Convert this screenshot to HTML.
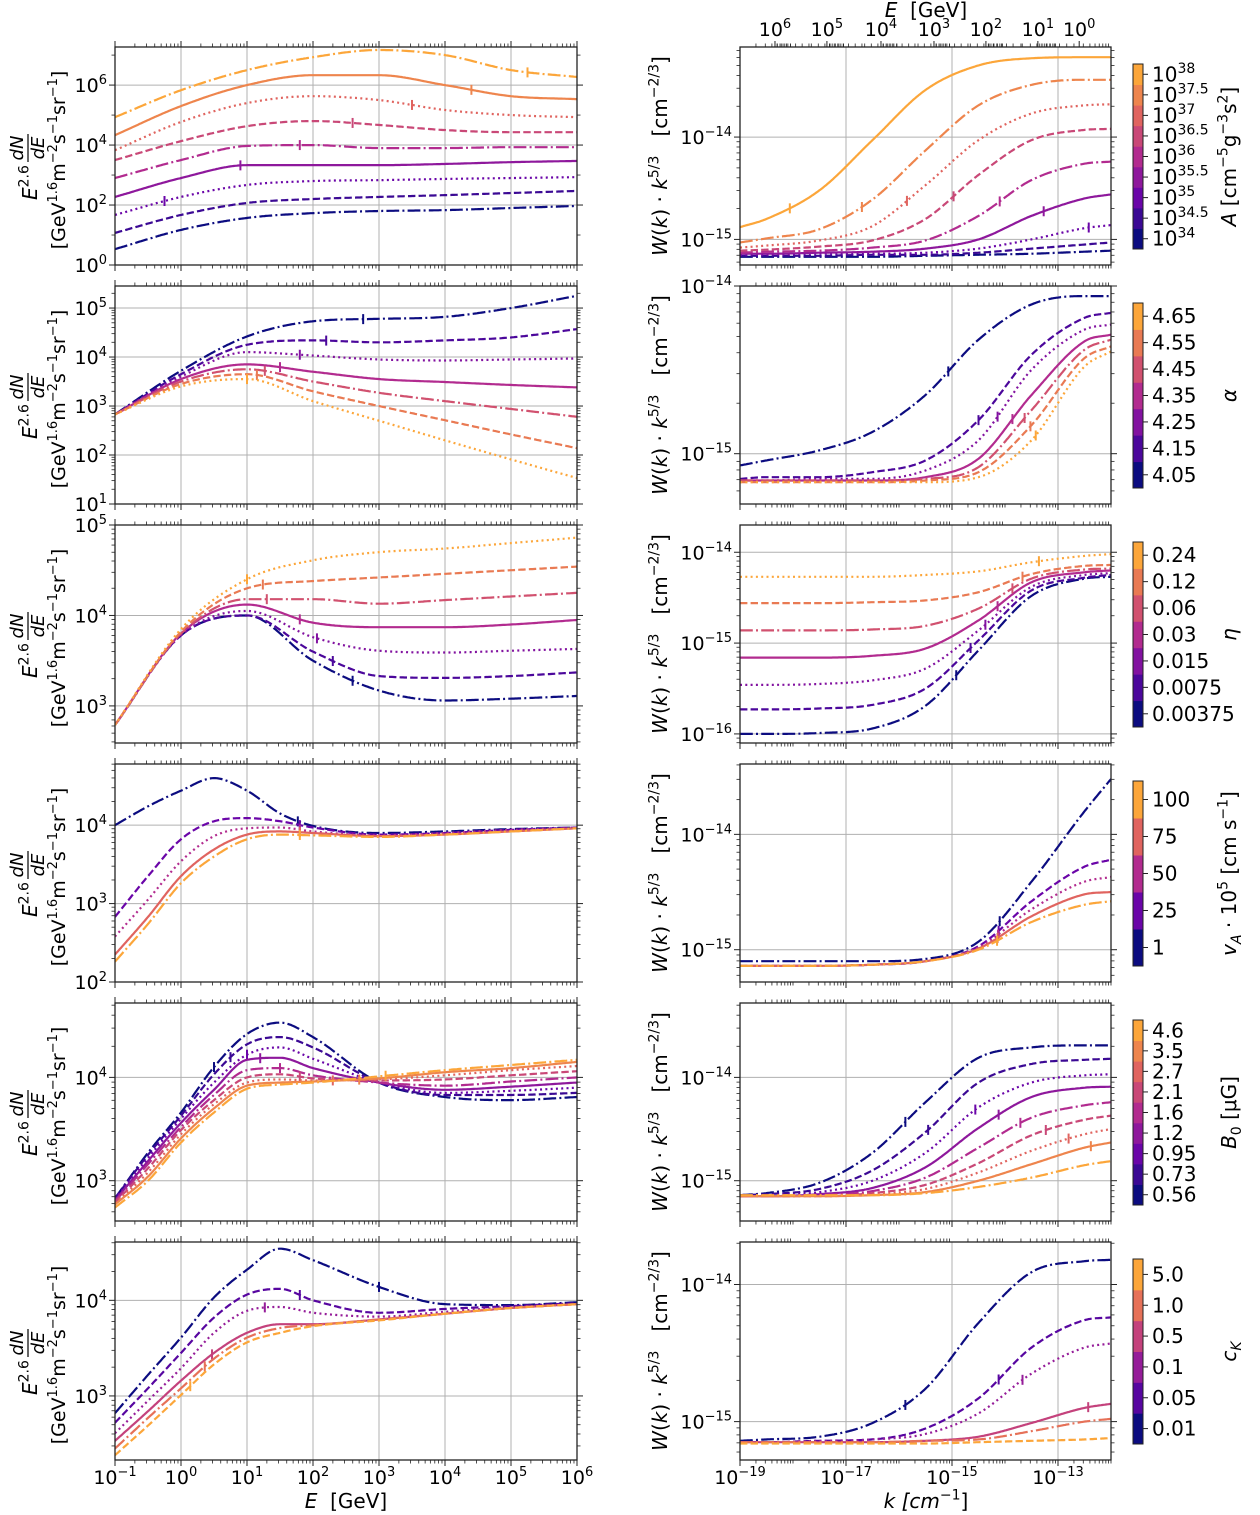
<!DOCTYPE html>
<html><head><meta charset="utf-8">
<style>
body{margin:0;background:#fff}
svg{display:block;font-family:"DejaVu Sans","Liberation Sans",sans-serif}
</style></head>
<body>
<svg id="fig" width="1260" height="1515" viewBox="0 0 1260 1515" xmlns="http://www.w3.org/2000/svg"></svg>
<script>
// ---------------- DATA (log10 values) ----------------
const L1x=[-1,0,1,2,3,4,5,6];
const L1y=[
[0.53,1.17,1.57,1.73,1.80,1.83,1.90,1.97],
[1.07,1.67,2.07,2.20,2.27,2.33,2.40,2.47],
[1.67,2.27,2.67,2.80,2.83,2.87,2.90,2.93],
[2.27,2.90,3.33,3.33,3.33,3.37,3.43,3.47],
[2.90,3.50,3.97,4.00,3.90,3.90,3.93,3.93],
[3.50,4.13,4.63,4.80,4.67,4.50,4.43,4.43],
[3.83,4.77,5.40,5.63,5.50,5.17,5.00,4.93],
[4.33,5.30,6.00,6.33,6.33,6.00,5.63,5.53],
[4.93,5.83,6.50,6.93,7.17,7.00,6.50,6.27]];
const L1mark=[null,null,-0.25,0.9,1.8,2.6,3.5,4.4,5.25];

const L2x=[-1,0,1,2,3,4,5,6];
const L2y=[
[2.83,3.72,4.42,4.73,4.78,4.82,5.00,5.25],
[2.83,3.65,4.25,4.34,4.30,4.34,4.40,4.57],
[2.83,3.60,4.10,4.03,3.95,3.93,3.95,3.97],
[2.83,3.55,3.85,3.70,3.55,3.49,3.43,3.38],
[2.83,3.50,3.75,3.50,3.27,3.10,2.94,2.78],
[2.83,3.45,3.65,3.30,3.00,2.71,2.42,2.14],
[2.83,3.40,3.55,3.10,2.70,2.30,1.91,1.53]];
const L2mark=[2.76,2.2,1.8,1.5,1.27,1.15,1.0];

const L3x=[-1,0,1,2,3,4,5,6];
const L3y=[
[2.79,3.78,4.00,3.50,3.17,3.06,3.08,3.11],
[2.79,3.78,4.00,3.60,3.33,3.31,3.33,3.37],
[2.79,3.78,4.05,3.76,3.61,3.59,3.61,3.63],
[2.79,3.80,4.12,3.92,3.87,3.87,3.90,3.95],
[2.79,3.80,4.18,4.18,4.13,4.17,4.21,4.25],
[2.79,3.82,4.30,4.38,4.42,4.46,4.50,4.54],
[2.79,3.85,4.40,4.61,4.70,4.74,4.80,4.86]];
const L3mark=[2.6,2.3,2.06,1.8,1.3,1.24,1.0];

const L4x=[-1,-0.5,0,0.5,1,1.5,2,3,4,5,6];
const L4y=[
[4.00,4.24,4.44,4.60,4.44,4.15,3.99,3.90,3.92,3.95,3.97],
[2.83,3.35,3.82,4.05,4.09,4.05,3.97,3.88,3.90,3.94,3.97],
[2.58,3.05,3.54,3.86,3.96,3.97,3.92,3.87,3.90,3.94,3.96],
[2.35,2.83,3.35,3.69,3.88,3.92,3.90,3.86,3.88,3.92,3.96],
[2.26,2.74,3.26,3.60,3.82,3.88,3.87,3.85,3.88,3.92,3.96]];
const L4mark=[1.77,1.8,1.8,1.8,1.8];

const L5x=[-1,-0.5,0,0.5,1,1.5,2,3,4,5,6];
const L5y=[
[2.83,3.27,3.66,4.10,4.42,4.53,4.39,3.95,3.81,3.78,3.81],
[2.83,3.25,3.63,4.03,4.32,4.39,4.29,3.95,3.83,3.83,3.85],
[2.82,3.22,3.60,3.95,4.22,4.29,4.18,3.95,3.85,3.87,3.90],
[2.81,3.19,3.56,3.88,4.17,4.19,4.09,3.95,3.88,3.91,3.95],
[2.80,3.16,3.52,3.83,4.07,4.09,4.02,3.95,3.92,3.96,4.00],
[2.79,3.12,3.49,3.78,4.00,4.03,3.99,3.97,3.98,4.02,4.06],
[2.78,3.08,3.45,3.74,3.95,3.98,3.97,3.98,4.02,4.07,4.11],
[2.77,3.04,3.41,3.70,3.92,3.95,3.96,3.99,4.05,4.09,4.15],
[2.74,3.00,3.37,3.66,3.89,3.93,3.95,4.01,4.07,4.12,4.17]];
const L5mark=[0.5,0.75,1.0,1.2,1.5,1.8,2.3,2.7,3.1];

const L6x=[-1,-0.5,0,0.5,1,1.5,2,3,4,5,6];
const L6y=[
[2.82,3.22,3.61,4.03,4.32,4.54,4.42,4.14,3.96,3.95,3.98],
[2.72,3.08,3.45,3.82,4.06,4.12,4.00,3.87,3.91,3.94,3.97],
[2.61,2.95,3.29,3.66,3.89,3.93,3.87,3.83,3.88,3.93,3.96],
[2.53,2.84,3.16,3.45,3.66,3.75,3.75,3.80,3.86,3.92,3.96],
[2.45,2.77,3.08,3.39,3.61,3.71,3.74,3.80,3.86,3.92,3.96],
[2.38,2.69,3.01,3.33,3.56,3.66,3.73,3.79,3.86,3.92,3.96]];
const L6mark=[3.0,1.8,1.27,0.47,0.36,0.14];

const Rx=[-19,-18.5,-17.5,-16.5,-15.5,-14.5,-13.5,-12.5,-12];
const R1y=[
[-15.17,-15.17,-15.17,-15.17,-15.16,-15.15,-15.14,-15.12,-15.11],
[-15.16,-15.16,-15.16,-15.15,-15.15,-15.13,-15.09,-15.05,-15.03],
[-15.15,-15.15,-15.14,-15.14,-15.13,-15.09,-15.00,-14.89,-14.86],
[-15.14,-15.14,-15.13,-15.12,-15.09,-15.00,-14.77,-14.60,-14.56],
[-15.13,-15.12,-15.11,-15.08,-15.01,-14.77,-14.42,-14.26,-14.24],
[-15.11,-15.10,-15.07,-15.01,-14.80,-14.37,-14.03,-13.93,-13.92],
[-15.08,-15.06,-15.01,-14.87,-14.47,-14.03,-13.77,-13.69,-13.68],
[-15.03,-14.99,-14.90,-14.61,-14.13,-13.69,-13.49,-13.44,-13.44],
[-14.88,-14.80,-14.52,-14.03,-13.54,-13.30,-13.23,-13.22,-13.22]];
const R1mark=[null,null,-12.42,-13.27,-14.1,-14.97,-15.85,-16.7,-18.06];
const R1styles=[0,1,2,3,0,1,2,0,3];

const R2y=[
[-15.07,-15.04,-14.98,-14.87,-14.65,-14.32,-14.11,-14.06,-14.06],
[-15.15,-15.14,-15.14,-15.11,-15.04,-14.80,-14.41,-14.19,-14.16],
[-15.16,-15.16,-15.15,-15.15,-15.10,-14.92,-14.50,-14.26,-14.23],
[-15.16,-15.16,-15.16,-15.16,-15.14,-15.03,-14.65,-14.33,-14.29],
[-15.16,-15.16,-15.16,-15.16,-15.15,-15.08,-14.74,-14.38,-14.32],
[-15.17,-15.17,-15.17,-15.17,-15.16,-15.11,-14.83,-14.43,-14.36],
[-15.17,-15.17,-15.17,-15.17,-15.17,-15.14,-14.92,-14.48,-14.39]];
const R2mark=[-15.07,-14.5,-14.14,-13.86,-13.63,-13.52,-13.42];

const R3y=[
[-16.00,-16.00,-15.99,-15.94,-15.69,-15.08,-14.48,-14.29,-14.27],
[-15.73,-15.73,-15.72,-15.68,-15.50,-14.97,-14.42,-14.28,-14.25],
[-15.46,-15.46,-15.45,-15.41,-15.28,-14.86,-14.38,-14.25,-14.23],
[-15.16,-15.16,-15.16,-15.14,-15.06,-14.75,-14.33,-14.22,-14.20],
[-14.86,-14.86,-14.86,-14.85,-14.81,-14.62,-14.29,-14.19,-14.18],
[-14.56,-14.56,-14.56,-14.55,-14.53,-14.44,-14.24,-14.15,-14.14],
[-14.27,-14.27,-14.27,-14.27,-14.25,-14.21,-14.11,-14.04,-14.02]];
const R3mark=[-14.92,-14.65,-14.37,-14.14,-13.86,-13.67,-13.36];

const R4y=[
[-15.10,-15.10,-15.10,-15.10,-15.08,-14.93,-14.41,-13.80,-13.52],
[-15.14,-15.14,-15.14,-15.13,-15.10,-14.97,-14.58,-14.28,-14.22],
[-15.14,-15.14,-15.14,-15.13,-15.10,-14.98,-14.65,-14.41,-14.37],
[-15.14,-15.14,-15.14,-15.13,-15.10,-14.99,-14.71,-14.52,-14.50],
[-15.14,-15.14,-15.14,-15.13,-15.10,-15.00,-14.76,-14.61,-14.58]];
const R4mark=[-14.1,-14.12,-14.13,-14.14,-14.15];

const R5y=[
[-15.14,-15.12,-15.02,-14.73,-14.24,-13.81,-13.71,-13.69,-13.69],
[-15.14,-15.13,-15.08,-14.90,-14.53,-14.05,-13.87,-13.83,-13.82],
[-15.15,-15.14,-15.11,-15.00,-14.73,-14.29,-14.05,-13.98,-13.97],
[-15.15,-15.15,-15.13,-15.07,-14.87,-14.49,-14.19,-14.10,-14.09],
[-15.15,-15.15,-15.14,-15.10,-14.97,-14.68,-14.39,-14.27,-14.24],
[-15.15,-15.15,-15.15,-15.12,-15.04,-14.83,-14.56,-14.41,-14.37],
[-15.15,-15.15,-15.15,-15.13,-15.08,-14.92,-14.71,-14.55,-14.50],
[-15.15,-15.15,-15.15,-15.14,-15.11,-15.00,-14.84,-14.68,-14.63],
[-15.14,-15.14,-15.14,-15.14,-15.12,-15.06,-14.97,-14.85,-14.81]];
const R5mark=[-15.88,-15.45,-14.56,-14.12,-13.71,-13.23,-12.8,-12.38,null];

const R6y=[
[-15.14,-15.13,-15.11,-15.01,-14.76,-14.28,-13.91,-13.83,-13.82],
[-15.15,-15.15,-15.14,-15.13,-15.05,-14.83,-14.46,-14.26,-14.24],
[-15.15,-15.15,-15.14,-15.13,-15.09,-14.94,-14.65,-14.46,-14.43],
[-15.15,-15.15,-15.15,-15.15,-15.14,-15.11,-15.01,-14.90,-14.87],
[-15.15,-15.15,-15.15,-15.15,-15.14,-15.13,-15.07,-15.00,-14.98],
[-15.16,-15.16,-15.16,-15.16,-15.16,-15.15,-15.14,-15.13,-15.12]];
const R6mark=[-15.88,-14.12,-13.67,-12.43,null,null];

const cb1Labels=['34','34.5','35','35.5','36','36.5','37','37.5','38'];
const cb2Labels=['4.05','4.15','4.25','4.35','4.45','4.55','4.65'];
const cb3Labels=['0.00375','0.0075','0.015','0.03','0.06','0.12','0.24'];
const cb4Labels=['1','25','50','75','100'];
const cb5Labels=['0.56','0.73','0.95','1.2','1.6','2.1','2.7','3.5','4.6'];
const cb6Labels=['0.01','0.05','0.1','0.5','1.0','5.0'];
const topETicks=[6,5,4,3,2,1,0];
const topEAtLogK=[-18.34,-17.36,-16.34,-15.34,-14.36,-13.38,-12.6];

// ---------------- rendering ----------------
const NS='http://www.w3.org/2000/svg';
const svg=document.getElementById('fig');
function mk(tag,attrs,parent){const e=document.createElementNS(NS,tag);for(const k in attrs)e.setAttribute(k,attrs[k]);(parent||svg).appendChild(e);return e;}
function rich(el,parts,fs){let off=0;parts.forEach(p=>{const t=document.createElementNS(NS,'tspan');t.textContent=p[0];const st=p[1]||'';let target=0;
 if(st.includes('s')){t.setAttribute('font-size',Math.round(fs*0.7));target=-fs*0.42;}
 else if(st.includes('b')){t.setAttribute('font-size',Math.round(fs*0.7));target=fs*0.25;}
 if(target!==off){t.setAttribute('dy',target-off);off=target;}
 if(st.includes('i'))t.setAttribute('font-style','italic');el.appendChild(t);});}
const stops=[[0,[12,12,128]],[0.25,[106,5,168]],[0.5,[178,43,143]],[0.75,[224,100,95]],[1,[252,166,58]]];
function cmap(t){for(let i=0;i<stops.length-1;i++){const[a,ca]=stops[i],[b,cb]=stops[i+1];if(t<=b+1e-9){const u=(t-a)/(b-a);return 'rgb('+ca.map((c,j)=>Math.round(c+(cb[j]-c)*u)).join(',')+')';}}return 'rgb(252,166,58)';}
const dashes=['12.8,3.2,2,3.2','7.4,3.2','2,3.3',''];
const dashNames=['dashdot','dashed','dotted','solid'];
function mono(xs,ys){const n=xs.length,d=[],m=[];for(let i=0;i<n-1;i++)d.push((ys[i+1]-ys[i])/(xs[i+1]-xs[i]));m[0]=d[0];m[n-1]=d[n-2];for(let i=1;i<n-1;i++){m[i]=(d[i-1]*d[i]<=0)?0:(d[i-1]+d[i])/2;}
for(let i=0;i<n-1;i++){if(d[i]===0){m[i]=0;m[i+1]=0;continue;}const a=m[i]/d[i],b=m[i+1]/d[i],s=a*a+b*b;if(s>9){const t=3/Math.sqrt(s);m[i]=t*a*d[i];m[i+1]=t*b*d[i];}}
return x=>{let i=0;while(i<n-2&&x>xs[i+1])i++;const h=xs[i+1]-xs[i],t=(x-xs[i])/h,t2=t*t,t3=t2*t;return(2*t3-3*t2+1)*ys[i]+(t3-2*t2+t)*h*m[i]+(-2*t3+3*t2)*ys[i+1]+(t3-t2)*h*m[i+1];};}
function expStr(k){return (k<0?'\u2212':'')+Math.abs(k);}

const rowTop=r=>47+r*239, rowH=218;
let clipId=0;
function panel(o){
  const side=o.side,r=o.row;
  const x0=side==='L'?115:740, x1=side==='L'?577:1111;
  const y0=rowTop(r), y1=y0+rowH;
  const X=v=>x0+(v-o.xlim[0])/(o.xlim[1]-o.xlim[0])*(x1-x0);
  const Y=v=>y1-(v-o.ylim[0])/(o.ylim[1]-o.ylim[0])*(y1-y0);
  const g=mk('g',{});
  
  
  const gg=mk('g',{},g);
  
  
  const tk=(xA,yA,xB,yB,w)=>mk('line',{x1:xA,y1:yA,x2:xB,y2:yB,stroke:'#222','stroke-width':w||1},gg);
  const xa=Math.ceil(o.xlim[0]-1e-9), xb=Math.floor(o.xlim[1]+1e-9);
  for(let k=Math.floor(o.xlim[0]);k<=xb;k++){
    for(let mm=2;mm<=9;mm++){const v=k+Math.log10(mm);if(v>o.xlim[0]&&v<o.xlim[1]){const px=X(v);tk(px,y1,px,y1+3.5,0.8);tk(px,y0,px,y0-3.5,0.8);}}
  }
  for(let k=xa;k<=xb;k++){
    const px=X(k);const major=(side==='L')||(Math.abs(k)%2===1);
    if(major){
      if(k>o.xlim[0]&&k<o.xlim[1])mk('line',{x1:px,y1:y0,x2:px,y2:y1,stroke:'#b0b0b0','stroke-width':1},gg);
      tk(px,y1,px,y1+6,1);
      if(side==='L')tk(px,y0,px,y0-6,1);
      if(o.xlabels){const t=mk('text',{x:px,y:1484,'text-anchor':'middle','font-size':19,fill:'#000'},gg);rich(t,[['10'],[expStr(k),'s']],19);}
    } else { tk(px,y1,px,y1+3.5,0.8); }
  }
  const ya=Math.ceil(o.ylim[0]-1e-9), yb=Math.floor(o.ylim[1]+1e-9);
  const span=o.ylim[1]-o.ylim[0];
  if(span<5){for(let k=Math.floor(o.ylim[0]);k<=yb;k++)for(let mm=2;mm<=9;mm++){const v=k+Math.log10(mm);if(v>o.ylim[0]&&v<o.ylim[1]){const py=Y(v);tk(x0,py,x0-3.5,py,0.8);tk(x1,py,x1+3.5,py,0.8);}}}
  for(let k=ya;k<=yb;k++){
    const py=Y(k);const major=o.ystep?(k%2===0):true;
    if(major){
      if(k>o.ylim[0]&&k<o.ylim[1])mk('line',{x1:x0,y1:py,x2:x1,y2:py,stroke:'#b0b0b0','stroke-width':1},gg);
      tk(x0,py,x0-6,py,1);tk(x1,py,x1+6,py,1);
      const t=mk('text',{x:x0-8,y:py+7,'text-anchor':'end','font-size':19,fill:'#000'},gg);
      
      
      rich(t,[['10'],[expStr(k),'s']],19);
    } else {tk(x0,py,x0-3.5,py,0.8);tk(x1,py,x1+3.5,py,0.8);}
  }
  clipId++;const cp=mk('clipPath',{id:'c'+clipId},g);mk('rect',{x:x0,y:y0,width:x1-x0,height:y1-y0},cp);
  const cg=mk('g',{'clip-path':'url(#c'+clipId+')'},g);
  
  
  const n=o.ys.length;
  o.ys.forEach((ser,i)=>{
    const f=mono(o.xs,ser);const col=cmap(n>1?i/(n-1):0);
    const si=o.styles?o.styles[i]:i%4;
    let d='';const N=300;
    for(let j=0;j<=N;j++){const v=o.xlim[0]+(o.xlim[1]-o.xlim[0])*j/N;d+=(j?'L':'M')+X(v).toFixed(1)+','+Y(f(v)).toFixed(1);}
    const p=mk('path',{d:d,fill:'none',stroke:col,'stroke-width':2.2,'stroke-linejoin':'round'},cg);
    if(dashes[si])p.setAttribute('stroke-dasharray',dashes[si]);
    
    
    const mv=o.marks[i];
    if(mv!==null&&mv!==undefined){const px=X(mv),py=Y(f(mv));const ml=mk('line',{x1:px,y1:py-5,x2:px,y2:py+5,stroke:col,'stroke-width':2},cg);
      
      }
  });
  const fr=mk('rect',{x:x0,y:y0,width:x1-x0,height:y1-y0,fill:'none',stroke:'#222','stroke-width':1.3},g);
  
  
  return {x0,x1,y0,y1,X,Y};
}
function colorbar(row,labels,isExp,title){
  const y0=rowTop(row)+17, y1=rowTop(row)+rowH-16, x0=1133, x1=1143, n=labels.length, h=(y1-y0)/n;
  const g=mk('g',{});
  
  
  labels.forEach((lab,i)=>{
    const yb=y1-(i+1)*h;
    const seg=mk('rect',{x:x0,y:yb,width:x1-x0,height:h+0.5,fill:cmap(n>1?i/(n-1):0)},g);
    
    
    const cy=yb+h/2;
    mk('line',{x1:x1,y1:cy,x2:x1+5,y2:cy,stroke:'#222','stroke-width':1},g);
    const t=mk('text',{x:x1+9,y:cy+7,'font-size':20,fill:'#000'},g);
    
    
    if(isExp)rich(t,[['10'],[lab,'s']],20);else t.textContent=lab;
  });
  mk('rect',{x:x0,y:y0,width:x1-x0,height:y1-y0,fill:'none',stroke:'#222','stroke-width':1},g);
  const cy=(y0+y1)/2;
  const t=mk('text',{transform:'translate(1236,'+cy+') rotate(-90)','text-anchor':'middle','font-size':20,fill:'#000'},g);
  
  
  rich(t,title,20);
}
function leftYLabel(row){
  const cy=rowTop(row)+rowH/2+4;
  const g=mk('g',{transform:'translate(0,'+cy+') rotate(-90)'});
  
  
  const a=mk('text',{x:-40,y:37,'font-size':20,fill:'#000'},g);
  rich(a,[['E','i'],['2.6','s']],20);
  const nu=mk('text',{x:12,y:23,'font-size':18,'text-anchor':'middle','font-style':'italic',fill:'#000'},g);nu.textContent='dN';
  mk('line',{x1:-2,y1:28,x2:26,y2:28,stroke:'#000','stroke-width':1.2},g);
  const de=mk('text',{x:12,y:44,'font-size':18,'text-anchor':'middle','font-style':'italic',fill:'#000'},g);de.textContent='dE';
  const b=mk('text',{x:0,y:65,'font-size':19,'text-anchor':'middle',fill:'#000'},g);
  rich(b,[['[GeV'],['1.6','s'],['m'],['\u22122','s'],['s'],['\u22121','s'],['sr'],['\u22121','s'],[']']],19);
}
function rightYLabel(row){
  const cy=rowTop(row)+rowH/2;
  const t=mk('text',{transform:'translate(667,'+cy+') rotate(-90)','text-anchor':'middle','font-size':20,fill:'#000'});
  
  
  rich(t,[['W','i'],['('],['k','i'],[') \u00b7 '],['k','i'],['5/3','s'],['\u00a0\u00a0\u00a0[cm'],['\u22122/3','s'],[']']],20);
}

const Lsets=[[L1x,L1y,L1mark,[0,7.27],2],[L2x,L2y,L2mark,[1,5.45]],[L3x,L3y,L3mark,[2.59,5.0]],[L4x,L4y,L4mark,[2,4.78]],[L5x,L5y,L5mark,[2.61,4.72]],[L6x,L6y,L6mark,[2.33,4.61]]];
const Rsets=[[R1y,R1mark,[-15.25,-13.12],R1styles],[R2y,R2mark,[-15.3,-14.0]],[R3y,R3mark,[-16.1,-13.7]],[R4y,R4mark,[-15.28,-13.39]],[R5y,R5mark,[-15.39,-13.28]],[R6y,R6mark,[-15.28,-13.69]]];
Lsets.forEach((s,r)=>{panel({name:'spectrum-panel-'+(r+1),side:'L',row:r,xlim:[-1,6],ylim:s[3],ystep:s[4],xs:s[0],ys:s[1],marks:s[2],xlabels:r===5});leftYLabel(r);});
let topPanel=null;
Rsets.forEach((s,r)=>{const p=panel({name:'turbulence-panel-'+(r+1),side:'R',row:r,xlim:[-19,-12],ylim:s[2],xs:Rx,ys:s[0],marks:s[1],styles:s[3],xlabels:r===5});if(r===0)topPanel=p;rightYLabel(r);});

(function(){
  const g=mk('g',{});
  
  
  const y0=topPanel.y0;
  topETicks.forEach((e,i)=>{
    const px=topPanel.X(topEAtLogK[i]);
    mk('line',{x1:px,y1:y0,x2:px,y2:y0-6,stroke:'#222','stroke-width':1},g);
    const t=mk('text',{x:px,y:36,'text-anchor':'middle','font-size':19,fill:'#000'},g);
    
    
    rich(t,[['10'],[String(e),'s']],19);
    if(i<topETicks.length-1){const a=topEAtLogK[i],b=topEAtLogK[i+1];for(let mm=2;mm<=9;mm++){const v=a+(b-a)*(1-Math.log10(mm));const q=topPanel.X(v);mk('line',{x1:q,y1:y0,x2:q,y2:y0-3.5,stroke:'#222','stroke-width':0.8},g);}}
  });
  const t=mk('text',{x:926,y:17,'text-anchor':'middle','font-size':20,fill:'#000'},g);
  
  
  rich(t,[['E','i'],['\u00a0\u00a0[GeV]']],20);
})();

colorbar(0,cb1Labels,true,[['A','i'],[' [cm'],['\u22125','s'],['g'],['\u22123','s'],['s'],['2','s'],[']']]);
colorbar(1,cb2Labels,false,[['\u03b1','i']]);
colorbar(2,cb3Labels,false,[['\u03b7','i']]);
colorbar(3,cb4Labels,false,[['v','i'],['A','bi'],[' \u00b7 10'],['5','s'],[' [cm s'],['\u22121','s'],[']']]);
colorbar(4,cb5Labels,false,[['B','i'],['0','b'],[' [\u03bcG]']]);
colorbar(5,cb6Labels,false,[['c','i'],['K','bi']]);

const xl=mk('text',{x:346,y:1508,'text-anchor':'middle','font-size':20,fill:'#000'});


rich(xl,[['E','i'],['\u00a0\u00a0[GeV]']],20);
const xr=mk('text',{x:926,y:1508,'text-anchor':'middle','font-size':20,fill:'#000'});


rich(xr,[['k','i'],['\u00a0[cm','i'],['\u22121','s'],[']']],20);
</script>
</body></html>
